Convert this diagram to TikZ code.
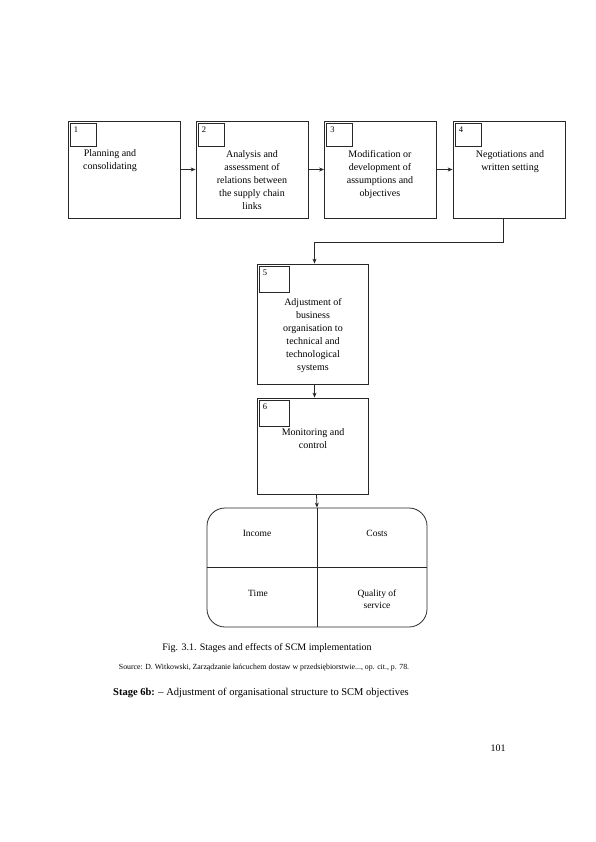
\documentclass[tikz,border=0pt]{standalone}
\usepackage{fontspec}
\setmainfont{Liberation Serif}
\usepackage{tikz}
\usetikzlibrary{arrows.meta,positioning,calc}
\definecolor{lineblack}{RGB}{40,40,40}

\begin{document}
\begin{tikzpicture}[
  x=1pt,y=-1pt,
  >={Stealth[length=5pt,width=4pt]},
  stagebox/.style 2 args={draw=lineblack,line width=0.8pt,minimum width=#1,minimum height=#2,
                          inner sep=0pt},
  numbox/.style={draw=lineblack,line width=0.6pt,minimum width=26pt,minimum height=23pt,
                 anchor=north west,inner sep=0pt},
  numtext/.style={font=\fontsize{8.5}{9}\selectfont,anchor=north west,inner sep=0pt},
  stagetext/.style={font=\fontsize{10}{13}\selectfont,align=center,anchor=north,inner sep=0pt},
  tabtext/.style={font=\fontsize{9.5}{12}\selectfont,align=center},
  captext/.style={font=\fontsize{10}{12}\selectfont},
  flow/.style={->,line width=0.8pt,lineblack},
]
\useasboundingbox (0,0) rectangle (595,842);

%% ── Top row of stages ───────────────────────────────────────────────────────
\node[stagebox={112pt}{97pt}] (s1) at (124,169.5) {};
\node[stagebox={112pt}{97pt}] (s2) at (252,169.5) {};
\node[stagebox={112pt}{97pt}] (s3) at (380.5,169.5) {};
\node[stagebox={112pt}{97pt}] (s4) at (509,169.5) {};

\foreach \i in {1,2,3,4}{
  \node[numbox] (n\i) at ($(s\i.north west)+(2,2)$) {};
  \node[numtext] at ($(n\i.north west)+(4,4)$) {\i};
}

\node[stagetext] (t1) at (110,149) {Planning and\\consolidating};
\node[stagetext] (t2) at (252,150) {Analysis and\\assessment of\\relations between\\the supply chain\\links};
\node[stagetext] (t3) at (380,150) {Modification or\\development of\\assumptions and\\objectives};
\node[stagetext] (t4) at (510,150) {Negotiations and\\written setting};

%% ── Column of stages ────────────────────────────────────────────────────────
\node[stagebox={111pt}{120pt}] (s5) at (312.5,324) {};
\node[stagebox={111pt}{96pt}] (s6) at (312.5,446) {};

\node[numbox,minimum width=30pt,minimum height=26pt] (n5) at ($(s5.north west)+(2,2)$) {};
\node[numtext] at ($(n5.north west)+(4,4)$) {5};
\node[numbox,minimum width=30pt,minimum height=26pt] (n6) at ($(s6.north west)+(2,2)$) {};
\node[numtext] at ($(n6.north west)+(4,4)$) {6};

\node[stagetext] (t5) at (313,298) {Adjustment of\\business\\organisation to\\technical and\\technological\\systems};
\node[stagetext] (t6) at (313,428) {Monitoring and\\control};

%% ── Effects table ───────────────────────────────────────────────────────────
\node[stagebox={220pt}{119pt},rounded corners=18pt] (tab) at (317,567.5) {};
\draw[line width=0.8pt,lineblack] (tab.north) -- (tab.south);
\draw[line width=0.8pt,lineblack] (tab.west) -- (tab.east);

\node[tabtext] (e1) at (257,533) {Income};
\node[tabtext] (e2) at (377,533) {Costs};
\node[tabtext] (e3) at (258,593) {Time};
\node[tabtext] (e4) at (377,599) {Quality of\\service};

%% ── Connectors ──────────────────────────────────────────────────────────────
\draw[flow] (s1) -- (s2);
\draw[flow] (s2) -- (s3);
\draw[flow] (s3) -- (s4);
\draw[flow] ([xshift=-6pt]s4.south) -- ++(0,24) -| ([xshift=2pt]s5.north);
\draw[flow] ([xshift=2pt]s5.south) -- ([xshift=2pt]s6.north);
\draw[flow] ([xshift=4pt]s6.south) -- (tab.north);

%% ── Captions ────────────────────────────────────────────────────────────────
\node[captext] (c1) at (267,648) {Fig. 3.1. Stages and effects of SCM implementation};
\node[captext,font=\fontsize{7.8}{9}\selectfont] (c2) at (264,668)
  {Source: D. Witkowski, Zarządzanie łańcuchem dostaw w przedsiębiorstwie..., op. cit., p. 78.};
\node[captext,font=\fontsize{10.5}{12}\selectfont] (c3) at (261,693)
  {\textbf{Stage 6b:} -- Adjustment of organisational structure to SCM objectives};
\node[captext] (pg) at (498,748) {101};

\end{tikzpicture}
\end{document}
